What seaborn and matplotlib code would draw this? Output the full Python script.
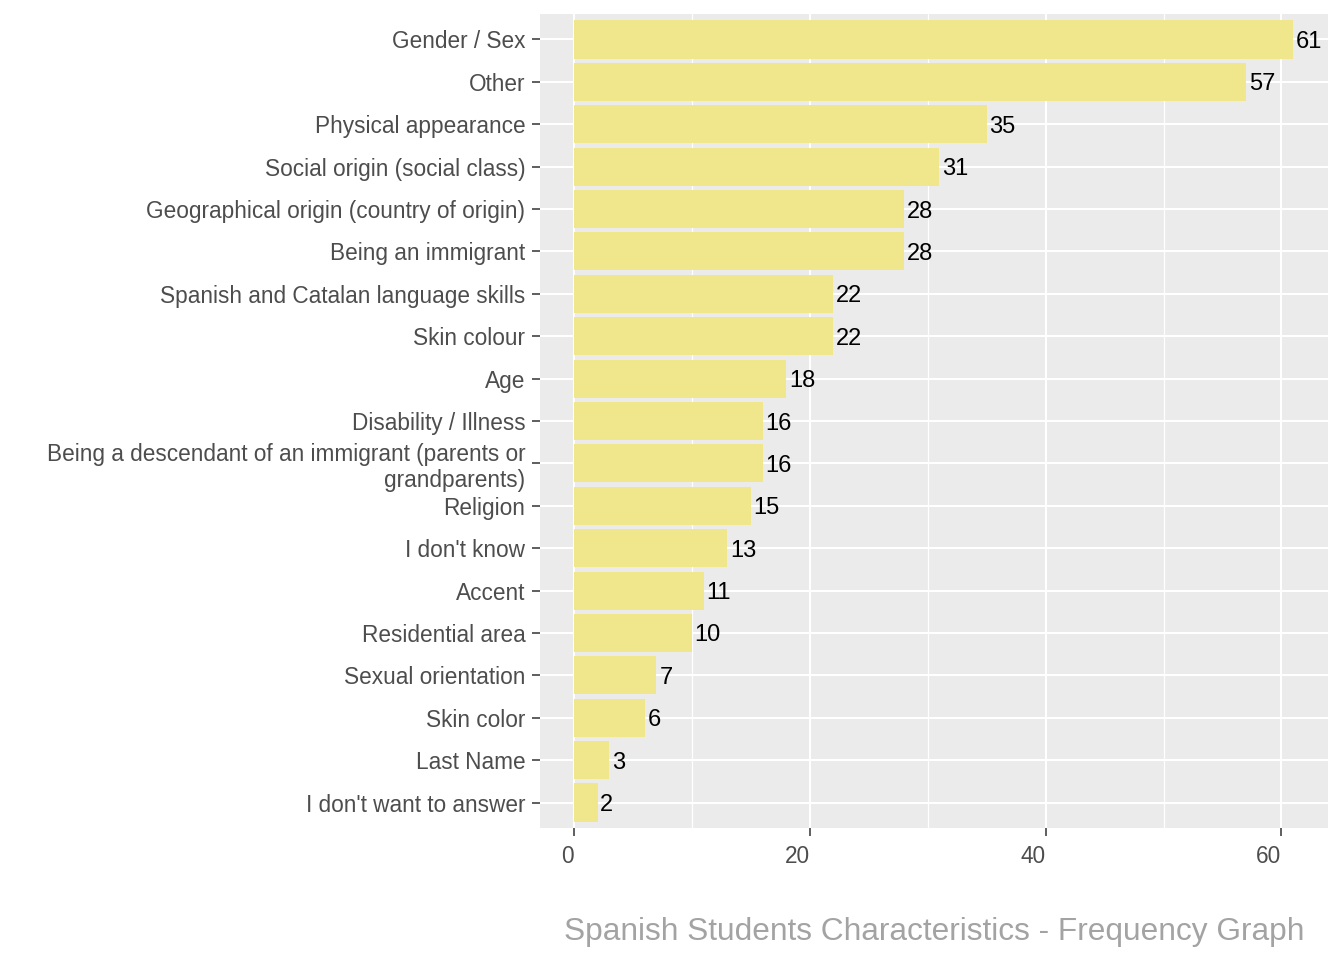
import pandas as pd
import matplotlib.pyplot as plt
from matplotlib.ticker import MultipleLocator
import seaborn as sns

categories = [
    "Gender / Sex",
    "Other",
    "Physical appearance",
    "Social origin (social class)",
    "Geographical origin (country of origin)",
    "Being an immigrant",
    "Spanish and Catalan language skills",
    "Skin colour",
    "Age",
    "Disability / Illness",
    "Being a descendant of an immigrant (parents or\ngrandparents)",
    "Religion",
    "I don't know",
    "Accent",
    "Residential area",
    "Sexual orientation",
    "Skin color",
    "Last Name",
    "I don't want to answer",
]
counts = [61, 57, 35, 31, 28, 28, 22, 22, 18, 16, 16, 15, 13, 11, 10, 7, 6, 3, 2]

df = pd.DataFrame({"category": categories, "n": counts})

sns.set_style("white")
plt.rcParams["font.family"] = ["Liberation Sans", "DejaVu Sans"]

fig = plt.figure(figsize=(13.44, 9.6), dpi=100)
ax = fig.add_axes([540 / 1344, 1 - 828 / 960, (1328 - 540) / 1344, (828 - 14) / 960])
ax.set_facecolor("#EBEBEB")

sns.barplot(data=df, x="n", y="category", order=categories, color="#F0E68C",
            width=0.9, saturation=1, linewidth=0, ax=ax, zorder=2)

for i, v in enumerate(counts):
    ax.annotate(str(v), (v, i), xytext=(2, 0), textcoords="offset points",
                ha="left", va="center_baseline", fontsize=17, color="black", zorder=3)

ax.set_xlim(-2.88, 63.95)
ax.set_ylim(len(categories) - 0.4, -0.6)
ax.xaxis.set_major_locator(MultipleLocator(20))
ax.xaxis.set_minor_locator(MultipleLocator(10))
ax.grid(which="major", color="white", linewidth=1.5, zorder=0)
ax.grid(which="minor", axis="x", color="white", linewidth=0.9, zorder=0)
ax.set_axisbelow(True)
for s in ax.spines.values():
    s.set_visible(False)

ax.tick_params(axis="both", which="major", length=5.5, width=1.1, color="#333333",
               labelsize=16.3, labelcolor="#4D4D4D", left=True, bottom=True)
ax.tick_params(axis="y", pad=5)
ax.tick_params(axis="x", pad=7)
ax.tick_params(axis="x", which="minor", length=0)
# x labels sit with their right edge on the tick, as in the original
for lab in ax.get_xticklabels():
    lab.set_ha("right")
ax.set_xlabel("")
ax.set_ylabel("")

fig.text(1304 / 1344, 1 - 940 / 960, "Spanish Students Characteristics - Frequency Graph",
         ha="right", va="baseline", fontsize=22.8, color="#A3A3A3")

fig.savefig("out.png", dpi=100)
